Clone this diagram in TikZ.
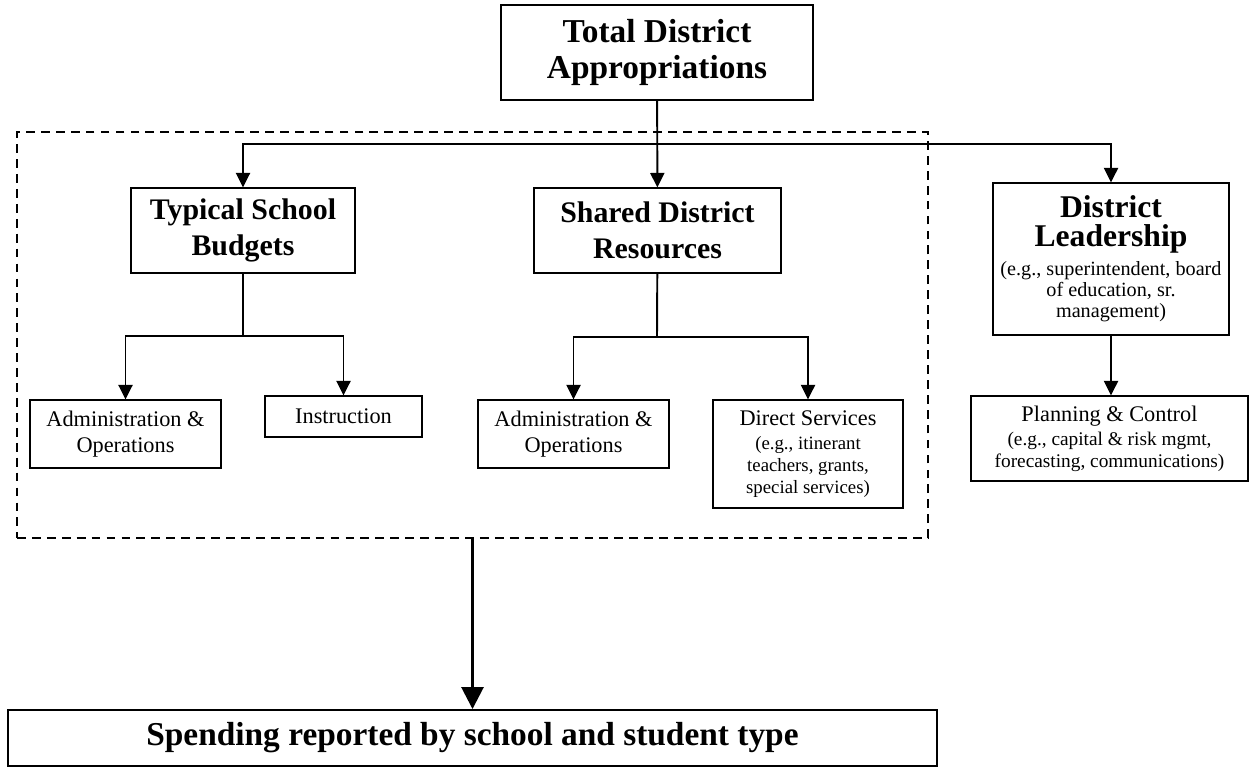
\documentclass[tikz,border=0pt]{standalone}
\usepackage{fontspec}
\setmainfont{Liberation Serif}
\usetikzlibrary{arrows.meta,positioning,calc}
\tikzset{box/.style={draw,line width=0.6pt,align=center,inner sep=0pt},
  boxsize/.style 2 args={minimum width=#1*0.02cm,minimum height=#2*0.02cm},
  dashbox/.style={draw,line width=1.1pt,dash pattern=on 5pt off 3.5pt,inner sep=0pt},
  title/.style={font=\fontsize{19}{21}\selectfont\bfseries},
  head/.style={font=\fontsize{17}{20.4}\selectfont\bfseries},
  body/.style={font=\fontsize{12.7}{15}\selectfont},
  link/.style={-{Triangle[width=0.28cm,length=0.29cm]},line width=1.1pt},
  joint/.style={line width=1.1pt},
  bigarrow/.style={-{Triangle[width=0.44cm,length=0.44cm]},line width=1.6pt}}
\newcommand{\egtext}[2][10.7]{{\mdseries\fontsize{#1}{12}\selectfont #2}}

\begin{document}
\begin{tikzpicture}[x=0.02cm,y=-0.02cm]
\useasboundingbox (0,0) rectangle (1251,768);

% The dashed frame
\node[dashbox,boxsize={911}{406}] (scope) at (472.5,335) {};

% Nodes
\node[box,title,boxsize={312}{95}] (total) at (657,52.5) {Total District\\Appropriations};
\node[box,head,boxsize={224}{85}] (typical) at (243,230.5) {Typical School\\Budgets};
\node[box,head,boxsize={247}{85}] (shared) at (657.5,230.5) {Shared District\\Resources};
\node[box,head,font=\fontsize{18}{16.4}\selectfont\bfseries,boxsize={236}{152}] (leader) at (1111,259)
  {District\\Leadership\\ \egtext[11.5]{(e.g., superintendent, board}\\[-4.4pt]
   \egtext[11.5]{of education, sr.}\\[-4.4pt] \egtext[11.5]{management)}};
\node[box,body,boxsize={191}{68}] (admin1) at (125.5,434) {Administration \&\\Operations};
\node[box,body,boxsize={157}{41}] (instr) at (343.5,416.5) {Instruction};
\node[box,body,boxsize={191}{68}] (admin2) at (573.5,434) {Administration \&\\Operations};
\node[box,body,font=\fontsize{12.7}{14}\selectfont,boxsize={190}{108}] (direct) at (808,454)
  {Direct Services\\ \egtext{(e.g., itinerant}\\[-1.5pt] \egtext{teachers, grants,}\\[-1.5pt]
   \egtext{special services)}};
\node[box,body,font=\fontsize{12.7}{14}\selectfont,boxsize={277}{85}] (plan) at (1109.5,438.5)
  {Planning \& Control\\ \egtext[11]{(e.g., capital \& risk mgmt,}\\[-2pt]
   \egtext[11]{forecasting, communications)}};
\node[box,title,line width=1.1pt,boxsize={929}{56}] (report) at (472.5,738)
  {Spending reported by school and student type};

% Split points
\coordinate (topsplit) at (657,144);
\coordinate (schoolsplit) at (243,336);
\coordinate (sharedsplit) at (657,337);

% Connectors
\draw[link] (total) -- (shared);
\draw[link] (topsplit) -| (typical);
\draw[link] (topsplit) -| (leader);
\draw[joint] (typical) -- (schoolsplit);
\draw[link] (schoolsplit) -| (admin1);
\draw[link] (schoolsplit) -| (instr);
\draw[joint] (shared) -- (sharedsplit);
\draw[link] (sharedsplit) -| (admin2);
\draw[link] (sharedsplit) -| (direct);
\draw[link] (leader.south) -- (leader.south |- plan.north);
\draw[bigarrow] (scope) -- (report);

\end{tikzpicture}
\end{document}
